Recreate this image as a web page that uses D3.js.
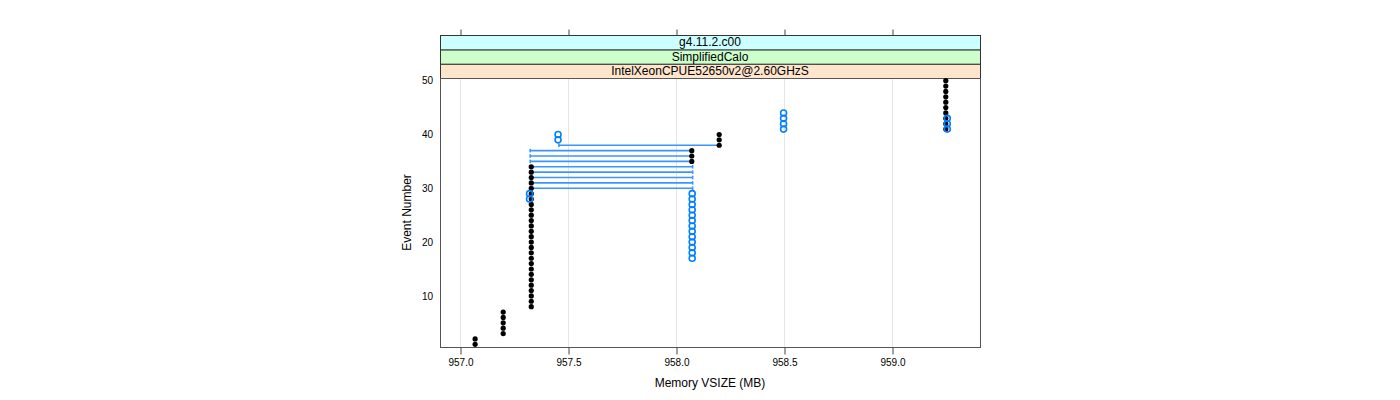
<!DOCTYPE html>
<html>
<head>
<meta charset="utf-8">
<script src="https://cdn.jsdelivr.net/npm/d3@7"></script>
<style>
  html, body { margin: 0; padding: 0; background: #ffffff; }
  svg { display: block; }
  text { font-family: "Liberation Sans", Arial, Helvetica, sans-serif; fill: #000; }
</style>
</head>
<body>
<svg id="chart" width="1400" height="400"></svg>
<script>
// ---------- data ----------
const stripLabels = ["IntelXeonCPUE52650v2@2.60GHzS", "SimplifiedCalo", "g4.11.2.c00"];
const stripColors = ["#ffe5cc", "#ccffcc", "#ccffff"];

const xTicks = [957.0, 957.5, 958.0, 958.5, 959.0];
const xTickLabels = ["957.0", "957.5", "958.0", "958.5", "959.0"];
const yTicks = [10, 20, 30, 40, 50];
const yTickLabels = ["10", "20", "30", "40", "50"];

// filled black points (event number, memory VSIZE)
const blackEvents = [1, 2, 3, 4, 5, 6, 7, 8, 9, 10, 11, 12, 13, 14, 15, 16, 17, 18, 19, 20,
  21, 22, 23, 24, 25, 26, 27, 28, 29, 30, 31, 32, 33, 34, 35, 36, 37, 38, 39, 40,
  41, 42, 43, 44, 45, 46, 47, 48, 49, 50];
const blackVsize = [957.07, 957.07,
  957.2, 957.2, 957.2, 957.2, 957.2,
  957.33, 957.33, 957.33, 957.33, 957.33, 957.33, 957.33, 957.33, 957.33, 957.33,
  957.33, 957.33, 957.33, 957.33, 957.33, 957.33, 957.33, 957.33, 957.33, 957.33,
  957.33, 957.33, 957.33, 957.33, 957.33, 957.33, 957.33,
  958.073, 958.073, 958.073,
  958.2, 958.2, 958.2,
  959.249, 959.249, 959.249, 959.249, 959.249, 959.249, 959.249, 959.249, 959.249, 959.249];

// open blue circles
const blueEvents = [17, 18, 19, 20, 21, 22, 23, 24, 25, 26, 27, 28, 29,
  28, 29, 39, 40, 41, 42, 43, 44, 41, 42, 43];
const blueVsize = [958.075, 958.075, 958.075, 958.075, 958.075, 958.075, 958.075,
  958.075, 958.075, 958.075, 958.075, 958.075, 958.075,
  957.322, 957.322, 957.454, 957.454, 958.498, 958.498, 958.498, 958.498,
  959.256, 959.256, 959.256];

// horizontal interval segments
const segEvents = [30, 31, 32, 33, 34, 35, 36, 37, 38];
const segStart = [957.325, 957.325, 957.325, 957.325, 957.325, 957.325, 957.325, 957.325, 957.458];
const segEnd = [958.077, 958.077, 958.077, 958.077, 958.077, 958.077, 958.077, 958.077, 958.197];

// ---------- layout ----------
const svg = d3.select("#chart");
const panel = { left: 440, right: 980, top: 78, bottom: 347 };
const stripTop = 35;
const stripH = (panel.top - stripTop) / 3;

const x = d3.scaleLinear().domain([956.9074, 959.4074]).range([panel.left, panel.right]);
const y = d3.scaleLinear().domain([0.5, 50.5]).range([panel.bottom, panel.top]);

// grid lines (vertical)
svg.append("g").selectAll("line").data(xTicks).join("line")
  .attr("x1", d => Math.round(x(d)) + 0.5).attr("x2", d => Math.round(x(d)) + 0.5)
  .attr("y1", panel.top).attr("y2", panel.bottom)
  .attr("stroke", "#e6e6e6").attr("stroke-width", 1);

// strips
const strips = svg.append("g");
stripLabels.forEach((lab, i) => {
  const y0 = panel.top - (i + 1) * stripH;
  strips.append("rect")
    .attr("x", panel.left + 0.5).attr("y", y0 + 0.5)
    .attr("width", panel.right - panel.left).attr("height", stripH)
    .attr("fill", stripColors[i]).attr("stroke", "#333").attr("stroke-width", 1);
  strips.append("text")
    .attr("x", (panel.left + panel.right) / 2).attr("y", y0 + stripH / 2 + 4)
    .attr("text-anchor", "middle").attr("font-size", 12).text(lab);
});

// panel border
svg.append("rect")
  .attr("x", panel.left + 0.5).attr("y", panel.top + 0.5)
  .attr("width", panel.right - panel.left).attr("height", panel.bottom - panel.top)
  .attr("fill", "none").attr("stroke", "#555").attr("stroke-width", 1);

// x axis bottom
const xAxisB = d3.axisBottom(x).tickValues(xTicks).tickFormat((d, i) => xTickLabels[i])
  .tickSizeInner(7).tickSizeOuter(0).tickPadding(4);
const gxb = svg.append("g").attr("transform", `translate(0.5,${panel.bottom + 0.5})`).call(xAxisB);
gxb.select(".domain").remove();
gxb.selectAll("line").attr("stroke", "#444");
gxb.selectAll("text").attr("font-size", 10).attr("font-family", "Liberation Sans, Arial, sans-serif");

// x axis top (ticks only)
const xAxisT = d3.axisTop(x).tickValues(xTicks).tickFormat("").tickSizeInner(6).tickSizeOuter(0);
const gxt = svg.append("g").attr("transform", `translate(0.5,${stripTop + 0.5})`).call(xAxisT);
gxt.select(".domain").remove();
gxt.selectAll("line").attr("stroke", "#444");

// y axis labels (no ticks)
const yAxisL = d3.axisLeft(y).tickValues(yTicks).tickFormat((d, i) => yTickLabels[i])
  .tickSizeInner(0).tickSizeOuter(0).tickPadding(7);
const gyl = svg.append("g").attr("transform", `translate(${panel.left},0)`).call(yAxisL);
gyl.select(".domain").remove();
gyl.selectAll("line").remove();
gyl.selectAll("text").attr("font-size", 10).attr("font-family", "Liberation Sans, Arial, sans-serif");

// axis titles
svg.append("text").attr("x", (panel.left + panel.right) / 2).attr("y", 387)
  .attr("text-anchor", "middle").attr("font-size", 12).text("Memory VSIZE (MB)");
svg.append("text").attr("transform", `translate(411,${(panel.top + panel.bottom) / 2}) rotate(-90)`)
  .attr("text-anchor", "middle").attr("font-size", 12).text("Event Number");

// segments
const segs = svg.append("g").attr("stroke", "#3b95ff").attr("stroke-width", 1.6).attr("fill", "none");
segEvents.forEach((ev, i) => {
  const yy = y(ev);
  const xa = x(segStart[i]), xb = x(segEnd[i]);
  segs.append("line").attr("x1", xa).attr("x2", xb).attr("y1", yy).attr("y2", yy);
  segs.append("line").attr("x1", xa).attr("x2", xa).attr("y1", yy - 1.8).attr("y2", yy + 1.8);
  segs.append("line").attr("x1", xb).attr("x2", xb).attr("y1", yy - 1.8).attr("y2", yy + 1.8);
});

// black points
svg.append("g").selectAll("circle").data(blackEvents).join("circle")
  .attr("cx", (d, i) => x(blackVsize[i])).attr("cy", d => y(d))
  .attr("r", 2.6).attr("fill", "#000");

// blue open circles
svg.append("g").selectAll("circle").data(blueEvents).join("circle")
  .attr("cx", (d, i) => x(blueVsize[i])).attr("cy", d => y(d))
  .attr("r", 3).attr("fill", "none").attr("stroke", "#0080ff").attr("stroke-width", 1.6);
</script>
</body>
</html>
